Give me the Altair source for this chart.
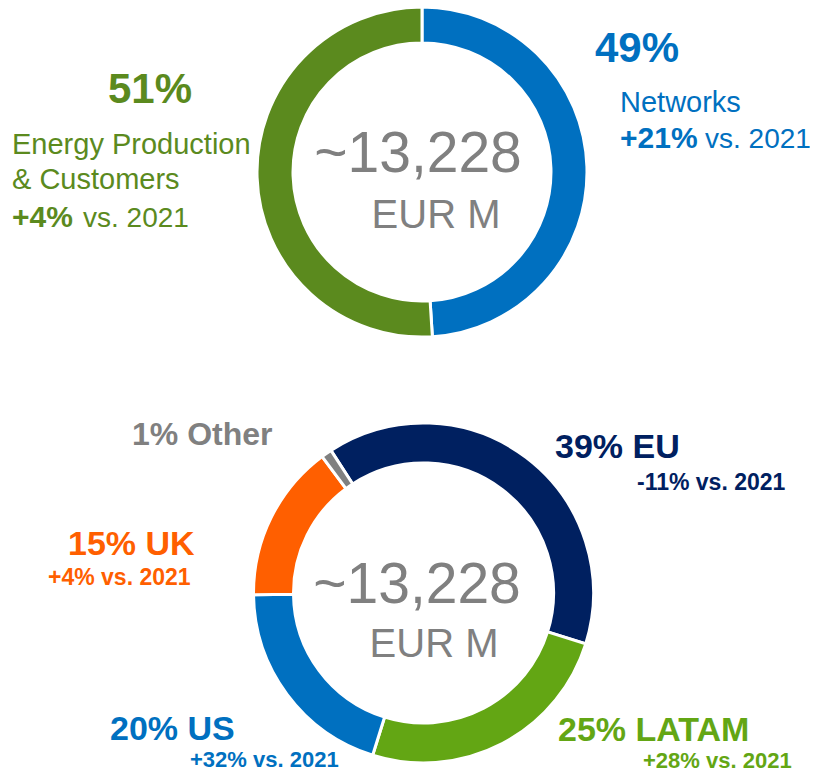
import math
import altair as alt
import pandas as pd

# ---- data ----
total_label = "~13,228"
unit_label = "EUR M"

top_segments = ["Networks", "Energy Production & Customers"]
top_shares = [49, 51]
top_change = [21, 4]
top_colors = ["#0070C0", "#5B8A1E"]

bottom_regions = ["EU", "LATAM", "US", "UK", "Other"]
bottom_shares = [39, 25, 20, 15, 1]
bottom_change = [-11, 28, 32, 4, None]
bottom_colors = ["#002060", "#63A614", "#0070C0", "#FF5F00", "#808080"]

GREY = "#808080"
FONT = "Liberation Sans"
M = 8  # page margin


def px(v):
    return v - M


def txt(text, x, y, size, color, weight="normal", align="left"):
    return alt.Chart(alt.Data(values=[{}])).mark_text(
        text=text, align=align, baseline="alphabetic", font=FONT,
        fontSize=size, fontWeight=weight, color=color,
    ).encode(x=alt.value(px(x)), y=alt.value(px(y)))


def chg(v):
    return f"{v:+d}%"


top_df = pd.DataFrame({"segment": top_segments, "share": top_shares,
                       "idx": list(range(len(top_segments)))})
bot_df = pd.DataFrame({"region": bottom_regions, "share": bottom_shares,
                       "idx": list(range(len(bottom_regions)))})

arc_top = alt.Chart(top_df).mark_arc(
    outerRadius=165, innerRadius=129, stroke="white", strokeWidth=3
).encode(
    theta=alt.Theta("share:Q", stack=True, scale=alt.Scale(range=[0, 2 * math.pi])),
    order=alt.Order("idx:Q"),
    color=alt.Color("segment:N", scale=alt.Scale(domain=top_segments, range=top_colors), legend=None),
    x=alt.value(px(422)), y=alt.value(px(172)),
)

start = math.radians(-33)
arc_bot = alt.Chart(bot_df).mark_arc(
    outerRadius=170, innerRadius=130, stroke="white", strokeWidth=3
).encode(
    theta=alt.Theta("share:Q", stack=True, scale=alt.Scale(range=[start, start + 2 * math.pi])),
    order=alt.Order("idx:Q"),
    color=alt.Color("region:N", scale=alt.Scale(domain=bottom_regions, range=bottom_colors), legend=None),
    x=alt.value(px(423.5)), y=alt.value(px(593)),
)

net_c, epc_c = top_colors
name1, name2 = top_segments[1].split(" & ")
texts = [
    # top donut
    txt(f"{top_shares[1]}%", 150, 103, 42, epc_c, "bold", "center"),
    txt(name1, 12, 154, 29, epc_c),
    txt("& " + name2, 12, 189, 29, epc_c),
    txt(chg(top_change[1]), 12, 227, 30, epc_c, "bold"),
    txt("vs. 2021", 83, 227, 28, epc_c),
    txt(f"{top_shares[0]}%", 595, 62, 42, net_c, "bold"),
    txt(top_segments[0], 620, 112, 29, net_c),
    txt(chg(top_change[0]), 620, 148, 30, net_c, "bold"),
    txt("vs. 2021", 705, 148, 28, net_c),
    txt(total_label, 418, 172, 57, GREY, "normal", "center"),
    txt(unit_label, 436, 228, 40, GREY, "normal", "center"),
    # bottom donut
    txt(total_label, 417, 603, 57, GREY, "normal", "center"),
    txt(unit_label, 434, 657, 40, GREY, "normal", "center"),
]

big_pos = {"EU": (555, 458), "LATAM": (558, 741), "US": (110, 740), "UK": (68, 555), "Other": (132, 445)}
small_pos = {"EU": (637, 490), "LATAM": (643, 768), "US": (190, 767), "UK": (48, 585)}
big_size = {"EU": 34, "LATAM": 34, "US": 34, "UK": 34, "Other": 32}
small_size = {"EU": 23, "LATAM": 22, "US": 22, "UK": 23}
for reg, sh, ch, col in zip(bottom_regions, bottom_shares, bottom_change, bottom_colors):
    bx, by = big_pos[reg]
    texts.append(txt(f"{sh}% {reg}", bx, by, big_size[reg], col, "bold"))
    if ch is not None:
        sx, sy = small_pos[reg]
        texts.append(txt(f"{chg(ch)} vs. 2021", sx, sy, small_size[reg], col, "bold"))

chart = alt.layer(arc_top, arc_bot, *texts).resolve_scale(
    theta="independent", color="independent"
).properties(
    width=802, height=765, padding=0, autosize="none"
).configure_view(stroke=None)

chart.save("out.html", embed_options={"renderer": "svg", "actions": False})
